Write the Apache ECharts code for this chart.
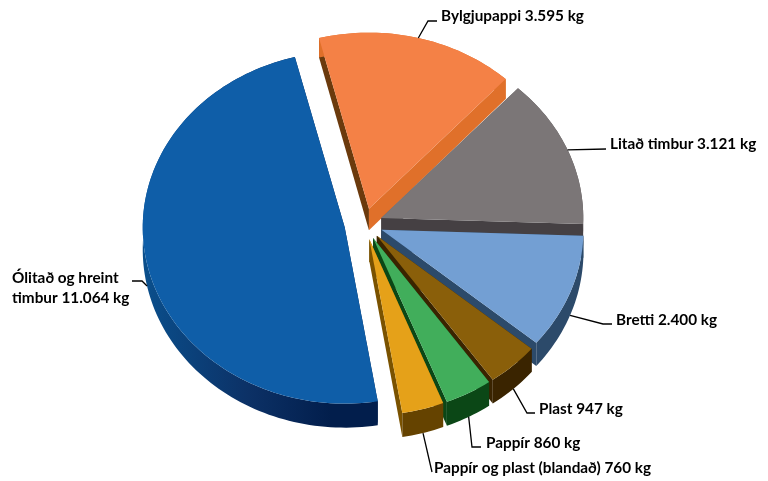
<!DOCTYPE html>
<html>
<head>
<meta charset="utf-8">
<style>
html,body{margin:0;padding:0;background:#fff;}
#main{width:768px;height:481px;}
</style>
<script src="https://cdn.jsdelivr.net/npm/echarts@6/dist/echarts.min.js"></script>
</head>
<body>
<div id="main"></div>
<script>
// data, in drawing order (clockwise from the orange slice)
var categories = ['Bylgjupappi', 'Litað timbur', 'Bretti', 'Plast', 'Pappír', 'Pappír og plast (blandað)', 'Ólitað og hreint\ntimbur'];
var values = [3595, 3121, 2400, 947, 860, 760, 11064];

// colours
var topColors = ['#f48146', '#7b7677', '#739fd3', '#8a5f0a', '#41ae5b', '#e5a119', '#0f5ea8'];
var outerWallColors = ['#e0702a', '#5a5556', '#2c4a6a', '#3a2400', '#0b4716', '#654300', '#02204f'];
var startWallColors = ['#6b3a0d', '#5a5556', '#2c4a6a', '#3a2400', '#0b4716', '#7a5200', '#02204f'];
var endWallColors = ['#e0702a', '#454043', '#2c4a6a', '#3a2400', '#0b4716', '#7a5200', '#02204f'];

// pie shape
var centerX = 364.5, centerY = 224, radiusX = 202, radiusY = 176, startAngle = -14.3;
var explode = [0.09, 0.09, 0.09, 0.09, 0.09, 0.09, 0.1];

// label placement: text anchor, leader elbow points
var labelPos = [[441, 16, 'left'], [610, 144, 'left'], [616, 320, 'left'], [539, 409, 'left'], [486, 443, 'left'], [434, 468, 'left'], [12, 288, 'left']];
var leaderPoints = [
	[[428, 21], [437, 21]],
	[[606, 149]],
	[[603, 324], [612, 324]],
	[[527, 413], [535, 413]],
	[[472, 447], [481, 447]],
	[[432, 472]],
	[[142, 281], [132, 281]]
];

var total = 0;
for (var t = 0; t < values.length; t++) total += values[t];

function fmtValue(v) {
	return String(v).replace(/\B(?=(\d{3})+$)/g, '.');
}
function rad(a) { return a * Math.PI / 180; }
function depthAt(y) { return 20 + (y - 77) / 325 * 4; }

function renderSlice(params, api) {
	var i = params.dataIndex;
	var acc = 0;
	for (var k = 0; k < i; k++) acc += values[k];
	var a0 = startAngle + acc / total * 360;
	var a1 = a0 + api.value(0) / total * 360;
	var mid = (a0 + a1) / 2;
	var apexX = centerX + explode[i] * radiusX * Math.sin(rad(mid));
	var apexY = centerY - explode[i] * radiusY * Math.cos(rad(mid));

	function rim(a) {
		return [apexX + radiusX * Math.sin(rad(a)), apexY - radiusY * Math.cos(rad(a))];
	}
	function down(p) { return [p[0], p[1] + depthAt(p[1])]; }

	var arc = [], arcLow = [];
	var steps = Math.ceil((a1 - a0) / 1.5);
	for (var s = 0; s <= steps; s++) {
		var p = rim(a0 + (a1 - a0) * s / steps);
		arc.push(p);
		arcLow.unshift(down(p));
	}
	var apex = [apexX, apexY];
	var first = arc[0], last = arc[arc.length - 1];

	var wallFill = outerWallColors[i];
	if (i === 6) {
		// big slice: wall darkens toward the front
		wallFill = new echarts.graphic.LinearGradient(0, 0, 1, 0, [
			{offset: 0, color: '#0a4f8c'},
			{offset: 0.45, color: '#0c3166'},
			{offset: 0.8, color: '#021e4c'},
			{offset: 1, color: '#021e4c'}
		]);
	}

	var children = [
		{type: 'polygon', shape: {points: [apex, first, down(first), down(apex)]}, style: {fill: startWallColors[i]}},
		{type: 'polygon', shape: {points: [apex, last, down(last), down(apex)]}, style: {fill: endWallColors[i]}},
		{type: 'polygon', shape: {points: arc.concat(arcLow)}, style: {fill: wallFill}},
		{type: 'polygon', shape: {points: [apex].concat(arc)}, style: {fill: topColors[i]}}
	];

	// leader line starts on the rim at the middle of the slice
	var anchor = rim(mid);
	if (Math.cos(rad(mid)) < 0) anchor = down(anchor);
	children.push({
		type: 'polyline',
		shape: {points: [anchor].concat(leaderPoints[i])},
		style: {stroke: '#000', lineWidth: 1.3, fill: null}
	});
	children.push({
		type: 'text',
		style: {
			x: labelPos[i][0],
			y: labelPos[i][1],
			text: categories[i] + ' ' + fmtValue(api.value(0)) + ' kg',
			textAlign: labelPos[i][2],
			textVerticalAlign: 'middle',
			fill: '#000',
			lineHeight: 20,
			font: 'bold 15.3px Lato, "Open Sans", sans-serif'
		}
	});
	return {type: 'group', children: children};
}

var chart = echarts.init(document.getElementById('main'), null, {renderer: 'canvas'});
chart.setOption({
	animation: false,
	backgroundColor: '#fff',
	series: [{
		type: 'custom',
		coordinateSystem: 'none',
		renderItem: renderSlice,
		data: values.map(function(v, i) { return {name: categories[i], value: [v]}; })
	}]
});
</script>
</body>
</html>
